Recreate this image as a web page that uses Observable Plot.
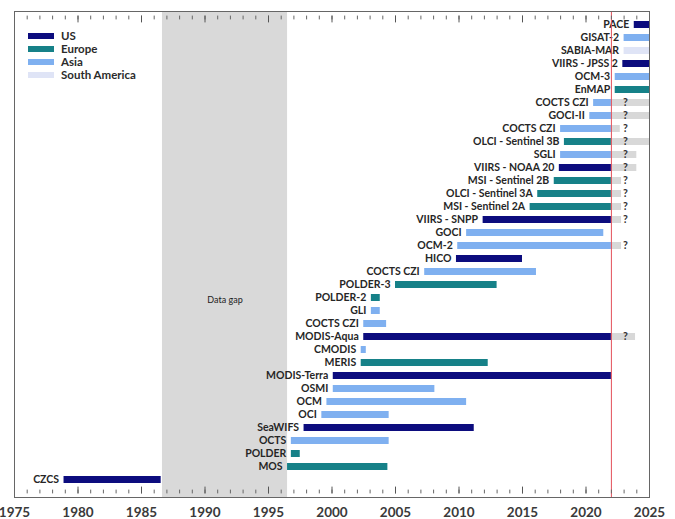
<!DOCTYPE html>
<html>
<head>
<meta charset="utf-8">
<script src="https://cdn.jsdelivr.net/npm/d3@7"></script>
<script src="https://cdn.jsdelivr.net/npm/@observablehq/plot@0.6"></script>
<style>
  body { margin: 0; background: white; }
  #chart { position: relative; width: 675px; height: 519px; }
  #legend { position: absolute; left: 28px; top: 29px; font-family: Lato, sans-serif; font-weight: bold; font-size: 11.5px; color: #2b2b2b; }
  #legend .row { display: flex; align-items: center; height: 13px; }
  #legend .sw { width: 26px; height: 6px; margin-right: 7px; }
</style>
</head>
<body>
<div id="chart"><div id="legend"></div></div>
<script>
// ---- data (top row to bottom row) ----
const names = ["PACE","GISAT-2","SABIA-MAR","VIIRS - JPSS 2","OCM-3","EnMAP","COCTS CZI","GOCI-II","COCTS CZI",
  "OLCI - Sentinel 3B","SGLI","VIIRS - NOAA 20","MSI - Sentinel 2B","OLCI - Sentinel 3A","MSI - Sentinel 2A",
  "VIIRS - SNPP","GOCI","OCM-2","HICO","COCTS CZI","POLDER-3","POLDER-2","GLI","COCTS CZI","MODIS-Aqua",
  "CMODIS","MERIS","MODIS-Terra","OSMI","OCM","OCI","SeaWIFS","OCTS","POLDER","MOS","CZCS"];
const regions = ["US","Asia","South America","US","Asia","Europe","Asia","Asia","Asia",
  "Europe","Asia","US","Europe","Europe","Europe",
  "US","Asia","Asia","US","Asia","Europe","Europe","Asia","Asia","US",
  "Asia","Europe","US","Asia","Asia","Asia","US","Asia","Europe","Europe","US"];
const starts = [2023.8,2023.0,2023.0,2022.9,2022.3,2022.3,2020.6,2020.3,2018.0,
  2018.3,2018.0,2017.9,2017.5,2016.2,2015.6,
  2011.9,2010.6,2009.9,2009.8,2007.3,2005.0,2003.1,2003.1,2002.5,2002.5,
  2002.3,2002.3,2000.1,2000.1,1999.6,1999.2,1997.8,1996.8,1996.8,1996.5,1978.9];
const ends = [2025,2025,2025,2025,2025,2025,2022,2022,2022,
  2022,2022,2022,2022,2022,2022,
  2022,2021.4,2022,2015.0,2016.1,2013.0,2003.8,2003.8,2004.3,2022,
  2002.7,2012.3,2022,2008.1,2010.6,2004.5,2011.2,2004.5,1997.5,2004.4,1986.55];
// uncertain continuation ("?") end year, null when none
const unknownEnds = [null,null,null,null,null,null,2025,2025,2022.7,
  2025,2024,2024,2022.8,2022.8,2022.8,
  2022.8,null,2022.8,null,null,null,null,null,null,2023.9,
  null,null,null,null,null,null,null,null,null,null,null];

const regionNames = ["US","Europe","Asia","South America"];
const regionColors = ["#0c0c7e","#168188","#7fb0f0","#dfe4f6"];
const tickYears = [1975,1980,1985,1990,1995,2000,2005,2010,2015,2020,2025];
const minorYears = d3.range(1975, 2026, 1);
const dataGap = {x1: 1986.65, x2: 1996.5, label: "Data gap", row: 21};
const currentYear = 2022;
const questionYear = 2023.1;

const rows = names.map((name, i) => ({
  id: i, name, region: regions[i], start: starts[i], end: ends[i], ext: unknownEnds[i]
}));
const uncertain = rows.filter(d => d.ext != null);
const firstId = rows[0].id, lastId = rows[rows.length - 1].id;

const chart = Plot.plot({
  width: 675, height: 519,
  marginLeft: 14, marginRight: 26, marginTop: 11, marginBottom: 22,
  style: {fontFamily: "Lato, sans-serif", background: "white", overflow: "visible"},
  x: {domain: [1975, 2025], label: null},
  y: {type: "band", domain: rows.map(d => d.id), padding: 0, insetTop: 2.4, insetBottom: 7.4, axis: null},
  color: {domain: regionNames, range: regionColors},
  marks: [
    Plot.rect([dataGap], {x1: "x1", x2: "x2", fill: "#d9d9d9"}),
    Plot.text([dataGap], {x: d => (d.x1 + d.x2) / 2, y: "row", text: "label", fontSize: 9, fill: "#222", dy: 2}),
    Plot.barX(uncertain, {x1: "end", x2: "ext", y: "id", fill: "#d8d8d8", insetTop: 3, insetBottom: 3}),
    Plot.barX(rows, {x1: "start", x2: "end", y: "id", fill: "region", insetTop: 3, insetBottom: 3}),
    Plot.text(uncertain, {x: () => questionYear, y: "id", text: () => "?", fontWeight: "bold", fontSize: 10.5, fill: "#333"}),
    Plot.text(rows, {x: "start", y: "id", text: "name", textAnchor: "end", dx: -5, fontWeight: "bold", fontSize: 10.5, fill: "#262626"}),
    Plot.ruleX([currentYear], {stroke: "#e4505a", strokeWidth: 1}),
    // inward tick marks on the bottom and top edges of the frame
    Plot.tickX(minorYears, {x: d => d, y: () => lastId, stroke: "#666", insetTop: 16.6, insetBottom: -7.4}),
    Plot.tickX(minorYears, {x: d => d, y: () => firstId, stroke: "#666", insetTop: -2.4, insetBottom: 11.6}),
    Plot.tickX(tickYears, {x: d => d, y: () => lastId, stroke: "#555", insetTop: 13.6, insetBottom: -7.4}),
    Plot.tickX(tickYears, {x: d => d, y: () => firstId, stroke: "#555", insetTop: -2.4, insetBottom: 8.6}),
    Plot.frame({stroke: "#666"}),
    Plot.axisX(tickYears, {tickSize: 0, tickPadding: 10, fontSize: 13.5, fontWeight: "bold", fill: "#3a3a3a", tickFormat: d => String(d), label: null})
  ]
});
const host = document.getElementById("chart");
host.insertBefore(chart, host.firstChild);

const legend = document.getElementById("legend");
regionNames.forEach((r, i) => {
  const row = document.createElement("div");
  row.className = "row";
  const sw = document.createElement("span");
  sw.className = "sw";
  sw.style.background = regionColors[i];
  const t = document.createElement("span");
  t.textContent = r;
  row.appendChild(sw); row.appendChild(t);
  legend.appendChild(row);
});
</script>
</body>
</html>
